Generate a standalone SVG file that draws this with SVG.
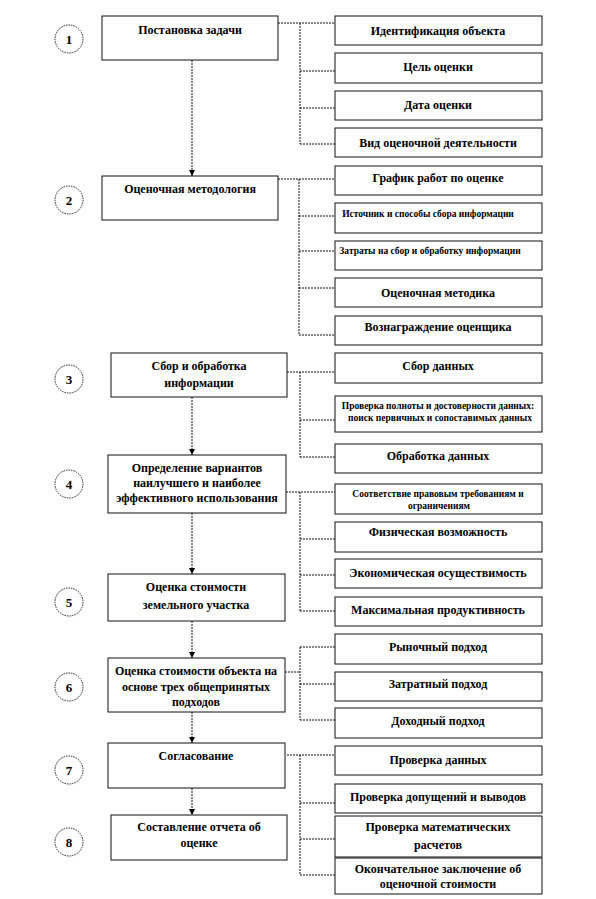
<svg xmlns="http://www.w3.org/2000/svg" width="596" height="899" viewBox="0 0 596 899">
<style>
.bx{fill:#fff;stroke:#111;stroke-width:1}
.cir{fill:#fff;stroke:#222;stroke-width:1;stroke-dasharray:1.5 1}
text{font-family:"Liberation Serif","Times New Roman","DejaVu Serif",serif;font-weight:bold;font-size:12px;fill:#000;text-anchor:middle}
.s{font-size:9.5px}
.n{font-size:13px}
.c{fill:none;stroke:#111;stroke-width:1;stroke-dasharray:2 1}
</style>
<defs>
<marker id="ah" markerWidth="6" markerHeight="6" refX="6" refY="3" orient="auto" markerUnits="userSpaceOnUse" viewBox="0 0 6 6">
<path d="M0,0 L6,3 L0,6 Z" fill="#000"/>
</marker>
</defs>
<rect width="596" height="899" fill="#fff"/>

<g id="connectors">
<line class="c" x1="192" y1="60" x2="192" y2="176" marker-end="url(#ah)"/>
<line class="c" x1="192" y1="397" x2="192" y2="455" marker-end="url(#ah)"/>
<line class="c" x1="192" y1="513" x2="192" y2="574" marker-end="url(#ah)"/>
<line class="c" x1="192" y1="621" x2="192" y2="658" marker-end="url(#ah)"/>
<line class="c" x1="192" y1="712" x2="192" y2="743" marker-end="url(#ah)"/>
<line class="c" x1="192" y1="788" x2="192" y2="815" marker-end="url(#ah)"/>
<path class="c" d="M278,23 H335 M300,23 V144 M300,71 H335 M300,108 H335 M300,144 H335"/>
<path class="c" d="M278,179 H335 M299,179 V335 M299,216 H335 M299,251 H335 M299,288 H335 M299,335 H335"/>
<path class="c" d="M287,372 H335 M300,372 V457 M300,420 H335 M300,457 H335"/>
<path class="c" d="M286,492 H335 M300,492 V611 M300,539 H335 M300,575 H335 M300,611 H335"/>
<path class="c" d="M285,672 H300 M300,647 V720 M300,647 H335 M300,684 H335 M300,720 H335"/>
<path class="c" d="M287,755 H335 M300,755 V875 M300,803 H335 M300,839 H335 M300,875 H335"/>
</g>

<g id="n1"><circle class="cir" cx="69" cy="39" r="14"/><text class="n" x="69" y="44">1</text></g>
<g id="n2"><circle class="cir" cx="69" cy="200" r="14"/><text class="n" x="69" y="205">2</text></g>
<g id="n3"><circle class="cir" cx="69" cy="379" r="14"/><text class="n" x="69" y="384">3</text></g>
<g id="n4"><circle class="cir" cx="69" cy="484" r="14"/><text class="n" x="69" y="489">4</text></g>
<g id="n5"><circle class="cir" cx="69" cy="602" r="14"/><text class="n" x="69" y="607">5</text></g>
<g id="n6"><circle class="cir" cx="69" cy="687" r="14"/><text class="n" x="69" y="692">6</text></g>
<g id="n7"><circle class="cir" cx="69" cy="770" r="14"/><text class="n" x="69" y="775">7</text></g>
<g id="n8"><circle class="cir" cx="69" cy="842" r="14"/><text class="n" x="69" y="847">8</text></g>

<g id="step1"><rect class="bx" x="102" y="16" width="176" height="44"/><text x="190" y="34">Постановка задачи</text></g>
<g id="step2"><rect class="bx" x="102" y="176" width="176" height="44"/><text x="190" y="193">Оценочная методология</text></g>
<g id="step3"><rect class="bx" x="111" y="353" width="176" height="44"/><text x="199" y="370">Сбор и обработка</text><text x="199" y="387">информации</text></g>
<g id="step4"><rect class="bx" x="108" y="455" width="178" height="58"/><text x="197" y="472">Определение вариантов</text><text x="197" y="487">наилучшего и наиболее</text><text x="197" y="502">эффективного использования</text></g>
<g id="step5"><rect class="bx" x="108" y="574" width="177" height="47"/><text x="196" y="591">Оценка стоимости</text><text x="196" y="609">земельного участка</text></g>
<g id="step6"><rect class="bx" x="108" y="658" width="177" height="54"/><text x="196" y="675">Оценка стоимости объекта на</text><text x="196" y="691">основе трех общепринятых</text><text x="196" y="706">подходов</text></g>
<g id="step7"><rect class="bx" x="108" y="743" width="177" height="45"/><text x="196" y="760">Согласование</text></g>
<g id="step8"><rect class="bx" x="111" y="815" width="176" height="45"/><text x="199" y="831">Составление отчета об</text><text x="199" y="847">оценке</text></g>

<g id="r1a"><rect class="bx" x="335" y="16" width="207" height="29"/><text x="438" y="35">Идентификация объекта</text></g>
<g id="r1b"><rect class="bx" x="335" y="53" width="207" height="30"/><text x="438" y="71">Цель оценки</text></g>
<g id="r1c"><rect class="bx" x="335" y="91" width="207" height="29"/><text x="438" y="109">Дата оценки</text></g>
<g id="r1d"><rect class="bx" x="335" y="128" width="207" height="29"/><text x="438" y="147">Вид оценочной деятельности</text></g>

<g id="r2a"><rect class="bx" x="335" y="166" width="207" height="29"/><text x="438" y="182">График работ по оценке</text></g>
<g id="r2b"><rect class="bx" x="335" y="203" width="207" height="30"/><text class="s" x="428" y="217">Источник и способы сбора информации</text></g>
<g id="r2c"><rect class="bx" x="335" y="241" width="207" height="29"/><text class="s" x="430" y="254">Затраты на сбор и обработку информации</text></g>
<g id="r2d"><rect class="bx" x="335" y="278" width="207" height="29"/><text x="438" y="297">Оценочная методика</text></g>
<g id="r2e"><rect class="bx" x="335" y="316" width="207" height="29"/><text x="438" y="331">Вознаграждение оценщика</text></g>

<g id="r3a"><rect class="bx" x="335" y="353" width="207" height="30"/><text x="438" y="370">Сбор данных</text></g>
<g id="r3b"><rect class="bx" x="335" y="396" width="207" height="36"/><text class="s" x="438" y="409">Проверка полноты и достоверности данных:</text><text class="s" x="440" y="421">поиск первичных и сопоставимых данных</text></g>
<g id="r3c"><rect class="bx" x="335" y="444" width="207" height="29"/><text x="438" y="460">Обработка данных</text></g>

<g id="r4a"><rect class="bx" x="335" y="484" width="207" height="30"/><text class="s" x="438" y="497">Соответствие правовым требованиям и</text><text class="s" x="439" y="509">ограничениям</text></g>
<g id="r4b"><rect class="bx" x="335" y="522" width="207" height="30"/><text x="438" y="536">Физическая возможность</text></g>
<g id="r4c"><rect class="bx" x="335" y="559" width="207" height="29"/><text x="438" y="577">Экономическая осуществимость</text></g>
<g id="r4d"><rect class="bx" x="335" y="597" width="207" height="29"/><text x="438" y="614">Максимальная продуктивность</text></g>

<g id="r6a"><rect class="bx" x="335" y="634" width="207" height="30"/><text x="438" y="651">Рыночный подход</text></g>
<g id="r6b"><rect class="bx" x="335" y="672" width="207" height="29"/><text x="438" y="688">Затратный подход</text></g>
<g id="r6c"><rect class="bx" x="335" y="708" width="207" height="30"/><text x="438" y="725">Доходный подход</text></g>

<g id="r7a"><rect class="bx" x="335" y="746" width="207" height="29"/><text x="438" y="764">Проверка данных</text></g>
<g id="r7b"><rect class="bx" x="335" y="784" width="207" height="29"/><text x="438" y="801">Проверка допущений и выводов</text></g>
<g id="r7c"><rect class="bx" x="335" y="816" width="207" height="41"/><text x="438" y="831">Проверка математических</text><text x="438" y="849">расчетов</text></g>
<g id="r7d"><rect class="bx" x="335" y="858" width="207" height="36"/><text x="438" y="873">Окончательное заключение об</text><text x="438" y="888">оценочной стоимости</text></g>
</svg>
